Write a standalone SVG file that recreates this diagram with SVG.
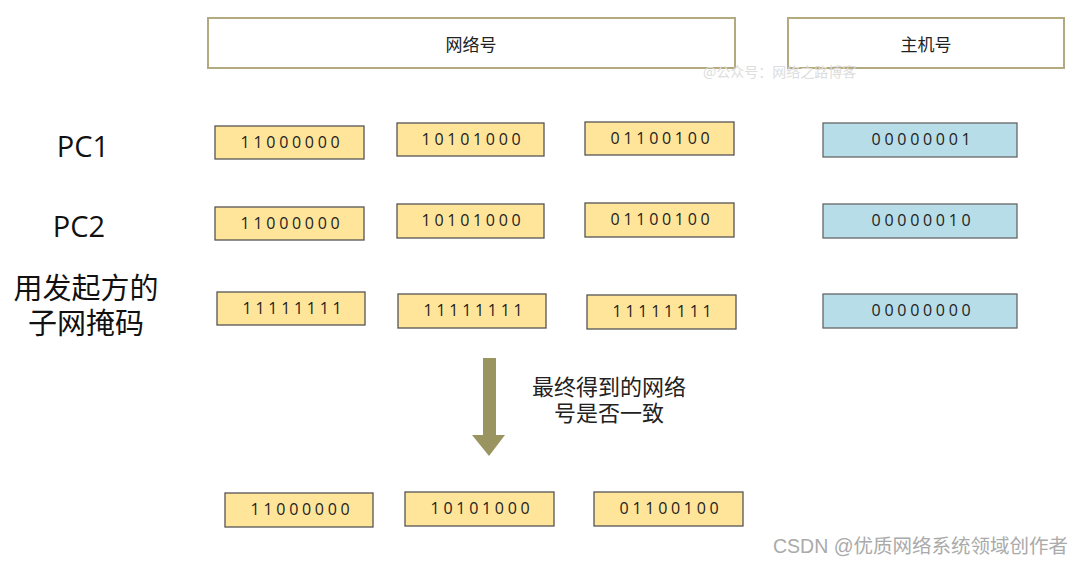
<svg xmlns="http://www.w3.org/2000/svg" width="1080" height="564" viewBox="0 0 1080 564">
<style>
.hdr{fill:#fff;stroke:#b3ab7f;stroke-width:2}
.y{fill:#ffe599;stroke:#555;stroke-width:1.3}
.b{fill:#b7dde8;stroke:#666;stroke-width:1.3}
.bt{font-family:"Open Sans","Noto Sans",sans-serif;font-size:16px;letter-spacing:3.7px;fill:#222;text-anchor:middle;dominant-baseline:central}
.ht{font-family:"Noto Sans CJK SC",sans-serif;font-size:17px;fill:#222;text-anchor:middle;dominant-baseline:central}
.lb{font-family:"Open Sans","Noto Sans CJK SC",sans-serif;font-size:29px;fill:#111;text-anchor:middle;dominant-baseline:central}
.cn{font-family:"Liberation Sans","Noto Sans CJK SC",sans-serif;font-size:29px;fill:#111;text-anchor:middle}
.q{font-family:"Liberation Sans","Noto Sans CJK SC",sans-serif;font-size:22px;fill:#222;text-anchor:middle}
</style>
<rect width="1080" height="564" fill="#fff"/>
<g id="hdr-net"><rect class="hdr" x="208" y="18" width="527" height="50"/><text class="ht" x="471" y="43">网络号</text></g>
<g id="hdr-host"><rect class="hdr" x="788" y="18" width="276" height="50"/><text class="ht" x="926" y="43">主机号</text></g>
<text x="703" y="77" font-family="Noto Sans CJK SC,sans-serif" font-size="14" fill="#ddd">@公众号：网络之路博客</text>
<g id="label-pc1"><text class="lb" x="83" y="145">PC1</text></g>
<g id="label-pc2"><text class="lb" x="79" y="225">PC2</text></g>
<g id="label-mask"><text class="cn" x="86" y="299">用发起方的</text><text class="cn" x="86" y="334">子网掩码</text></g>
<g id="pc1-o1"><rect class="y" x="215" y="126" width="149" height="33"/><text class="bt" x="292" y="142">11000000</text></g>
<g id="pc1-o2"><rect class="y" x="397" y="123" width="147" height="33"/><text class="bt" x="473" y="139">10101000</text></g>
<g id="pc1-o3"><rect class="y" x="585" y="122" width="149" height="33"/><text class="bt" x="662" y="138">01100100</text></g>
<g id="pc1-o4"><rect class="b" x="823" y="123" width="194" height="34"/><text class="bt" x="923" y="139">00000001</text></g>
<g id="pc2-o1"><rect class="y" x="215" y="207" width="149" height="33"/><text class="bt" x="292" y="223">11000000</text></g>
<g id="pc2-o2"><rect class="y" x="397" y="204" width="147" height="34"/><text class="bt" x="473" y="220">10101000</text></g>
<g id="pc2-o3"><rect class="y" x="585" y="203" width="149" height="34"/><text class="bt" x="662" y="219">01100100</text></g>
<g id="pc2-o4"><rect class="b" x="823" y="204" width="194" height="34"/><text class="bt" x="923" y="220">00000010</text></g>
<g id="mask-o1"><rect class="y" x="217" y="292" width="148" height="33"/><text class="bt" x="294" y="308">11111111</text></g>
<g id="mask-o2"><rect class="y" x="398" y="294" width="148" height="34"/><text class="bt" x="475" y="310">11111111</text></g>
<g id="mask-o3"><rect class="y" x="587" y="295" width="149" height="34"/><text class="bt" x="664" y="311">11111111</text></g>
<g id="mask-o4"><rect class="b" x="823" y="294" width="194" height="34"/><text class="bt" x="923" y="310">00000000</text></g>
<g id="connectors"><polygon points="483,358 496,358 496,435 505,435 489,456 472,435 483,435" fill="#9a9560"/></g>
<g id="question"><text class="q" x="609" y="395">最终得到的网络</text><text class="q" x="609" y="421">号是否一致</text></g>
<g id="res-o1"><rect class="y" x="225" y="493" width="148" height="34"/><text class="bt" x="302" y="509">11000000</text></g>
<g id="res-o2"><rect class="y" x="405" y="492" width="149" height="34"/><text class="bt" x="482" y="508">10101000</text></g>
<g id="res-o3"><rect class="y" x="594" y="492" width="149" height="34"/><text class="bt" x="671" y="508">01100100</text></g>
<text x="773" y="553" font-family="Liberation Sans,Noto Sans CJK SC,sans-serif" font-size="19.5" fill="#aaa">CSDN @优质网络系统领域创作者</text>
</svg>
